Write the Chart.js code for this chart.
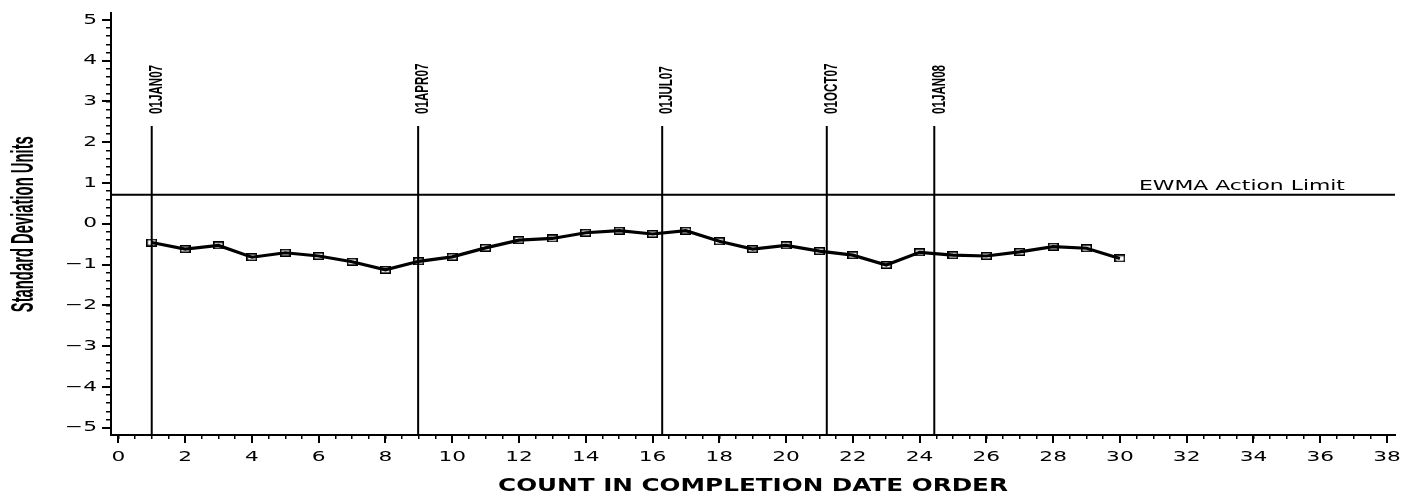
<!DOCTYPE html>
<html>
<head>
<meta charset="utf-8">
<script src="https://cdn.jsdelivr.net/npm/chart.js@4/dist/chart.umd.min.js"></script>
<style>
html,body{margin:0;padding:0;background:#fff;}
#wrap{width:1422px;height:497px;position:relative;}
</style>
</head>
<body>
<div id="wrap"><canvas id="c"></canvas></div>
<script>
// ---- data ----
const counts = [1,2,3,4,5,6,7,8,9,10,11,12,13,14,15,16,17,18,19,20,21,22,23,24,25,26,27,28,29,30];
const ewmaValues = [-0.46,-0.62,-0.53,-0.82,-0.71,-0.79,-0.93,-1.13,-0.92,-0.81,-0.59,-0.40,-0.36,-0.22,-0.17,-0.25,-0.17,-0.43,-0.62,-0.53,-0.67,-0.77,-1.01,-0.70,-0.77,-0.79,-0.69,-0.56,-0.60,-0.85];
const xMajorTicks = [0,2,4,6,8,10,12,14,16,18,20,22,24,26,28,30,32,34,36,38];
const yMajorTicks = [-5,-4,-3,-2,-1,0,1,2,3,4,5];
const dateLabels = ['01JAN07','01APR07','01JUL07','01OCT07','01JAN08'];
const datePositions = [1.0, 8.98, 16.29, 21.22, 24.44];
const dateLineTop = 2.40;
const actionLimit = 0.71;
const actionLabel = 'EWMA Action Limit';
const actionLabelX = 30.57;
const xTitle = 'COUNT IN COMPLETION DATE ORDER';
const yTitle = 'Standard Deviation Units';
const xMin = -0.22, xMax = 38.24, yMin = -5.18, yMax = 5.16;

// ---- marker ----
const mk = document.createElement('canvas');
mk.width = 11; mk.height = 8;
const mctx = mk.getContext('2d');
mctx.strokeStyle = '#000'; mctx.lineWidth = 1.6;
mctx.strokeRect(0.8, 0.8, 9.4, 6.4);

const datasets = [{
  data: counts.map((c, i) => ({x: c, y: ewmaValues[i]})),
  borderColor: '#000', borderWidth: 3.2, tension: 0,
  pointStyle: mk, pointRadius: 5, order: 0
}, {
  data: [{x: xMin, y: actionLimit}, {x: xMax, y: actionLimit}],
  borderColor: '#000', borderWidth: 2, pointRadius: 0, order: 1
}];
datePositions.forEach(p => {
  datasets.push({
    data: [{x: p, y: yMin}, {x: p, y: dateLineTop}],
    borderColor: '#000', borderWidth: 2, pointRadius: 0, order: 1
  });
});

const tickFont = {family: 'DejaVu Sans', size: 14};

const textPlugin = {
  id: 'texts',
  beforeDraw(chart) {
    // horizontally widen the library-drawn axis text (extended look of the original)
    const ctx = chart.ctx;
    const orig = CanvasRenderingContext2D.prototype.fillText;
    ctx.fillText = function (t, x, y) {
      const s = this.font.indexOf('bold') >= 0 ? 1.45 : 1.55;
      this.save();
      this.translate(x, y);
      this.scale(s, 1);
      orig.call(this, t, 0, 0);
      this.restore();
    };
  },
  beforeDatasetsDraw(chart) {
    delete chart.ctx.fillText;
  },
  afterDraw(chart) {
    const ctx = chart.ctx, xs = chart.scales.x, ys = chart.scales.y, ca = chart.chartArea;
    delete ctx.fillText;
    ctx.save();
    ctx.fillStyle = '#000';
    // y title
    ctx.save();
    ctx.font = 'bold 31px "Liberation Sans Narrow","Liberation Sans",sans-serif';
    const wy = ctx.measureText(yTitle).width;
    ctx.translate(33, (ca.top + ca.bottom) / 2);
    ctx.rotate(-Math.PI / 2);
    ctx.scale(176 / wy, 1);
    ctx.textAlign = 'center'; ctx.textBaseline = 'alphabetic';
    ctx.fillText(yTitle, 0, 0);
    ctx.restore();
    // date labels
    ctx.save();
    ctx.font = 'bold 18px "Liberation Sans Narrow","Liberation Sans",sans-serif';
    const sx = 49 / ctx.measureText(dateLabels[0]).width;
    const yb = ys.getPixelForValue(dateLineTop) - 12;
    dateLabels.forEach((lab, i) => {
      ctx.save();
      ctx.translate(xs.getPixelForValue(datePositions[i]) + 10.3, yb);
      ctx.rotate(-Math.PI / 2);
      ctx.scale(sx, 1);
      ctx.textAlign = 'left'; ctx.textBaseline = 'alphabetic';
      ctx.fillText(lab, 0, 0);
      ctx.restore();
    });
    ctx.restore();
    // action label
    ctx.save();
    ctx.font = '14px "DejaVu Sans"';
    const wa = ctx.measureText(actionLabel).width;
    ctx.translate(xs.getPixelForValue(actionLabelX), ys.getPixelForValue(actionLimit) - 5);
    ctx.scale(206 / wa, 1);
    ctx.textAlign = 'left'; ctx.textBaseline = 'alphabetic';
    ctx.fillText(actionLabel, 0, 0);
    ctx.restore();
    ctx.restore();
  }
};

new Chart(document.getElementById('c'), {
  type: 'line',
  data: {datasets},
  plugins: [textPlugin],
  options: {
    responsive: true, maintainAspectRatio: false, animation: false, events: [],
    layout: {padding: {left: 0, right: 27, top: 9, bottom: 0}},
    plugins: {legend: {display: false}, tooltip: {enabled: false}},
    scales: {
      x: {
        type: 'linear', position: 'bottom', weight: 1, min: xMin, max: xMax,
        afterBuildTicks: s => { s.ticks = xMajorTicks.map(v => ({value: v})); },
        afterFit: s => { s.height = 62; },
        ticks: {font: tickFont, color: '#000', padding: 6, autoSkip: false, maxRotation: 0, includeBounds: false},
        grid: {drawOnChartArea: false, drawTicks: true, tickLength: 8, color: '#000', lineWidth: 2},
        border: {display: true, color: '#000', width: 2},
        title: {display: true, text: xTitle, color: '#000', font: {family: 'DejaVu Sans', size: 17, weight: 'bold'}, padding: {top: 0, bottom: 0}}
      },
      xMinor: {
        type: 'linear', position: 'bottom', weight: 0, min: xMin, max: xMax,
        ticks: {display: false, stepSize: 0.5, includeBounds: false},
        afterFit: s => { s.height = 0; },
        grid: {drawOnChartArea: false, drawTicks: true, tickLength: 4, color: '#000', lineWidth: 1.5},
        border: {display: false}
      },
      y: {
        type: 'linear', position: 'left', weight: 1, min: yMin, max: yMax,
        afterBuildTicks: s => { s.ticks = yMajorTicks.map(v => ({value: v})); },
        afterFit: s => { s.width = 111; },
        ticks: {font: tickFont, color: '#000', padding: 5, callback: v => v < 0 ? '\u2212' + Math.abs(v) : String(v)},
        grid: {drawOnChartArea: false, drawTicks: true, tickLength: 9, color: '#000', lineWidth: 2},
        border: {display: true, color: '#000', width: 2}
      },
      yMinor: {
        type: 'linear', position: 'left', weight: 0, min: yMin, max: yMax,
        ticks: {display: false, stepSize: 0.2, includeBounds: false},
        afterFit: s => { s.width = 0; },
        grid: {drawOnChartArea: false, drawTicks: true, tickLength: 5, color: '#000', lineWidth: 1.5},
        border: {display: false}
      }
    }
  }
});
</script>
</body>
</html>
